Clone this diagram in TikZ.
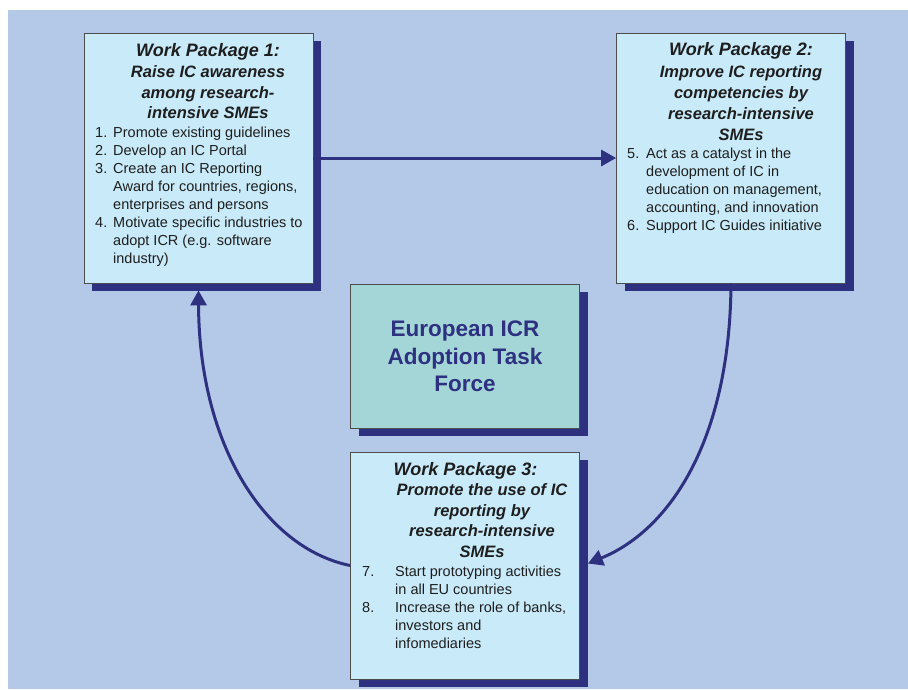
\documentclass[tikz,border=0pt]{standalone}
\usepackage{fontspec}
\setmainfont{Liberation Sans}
\usetikzlibrary{arrows.meta,shadows}

\definecolor{wpback}{HTML}{B4C9E8}
\definecolor{wpfill}{HTML}{C9EAF9}
\definecolor{tffill}{HTML}{A4D6D8}
\definecolor{wpnavy}{HTML}{2E3080}
\definecolor{wpline}{HTML}{4D4D4D}
\definecolor{wptext}{HTML}{1E1E1E}

\newcommand{\wpnum}[2][18pt]{\makebox[#1][l]{#2}}
\newcommand{\wpgap}[1][18pt]{\hspace*{#1}}

\tikzset{
        wpbox/.style={draw=wpline, line width=0.8pt, fill=wpfill, inner sep=0pt,
            minimum width=229pt, minimum height=250pt,
            drop shadow={shadow xshift=8pt, shadow yshift=-8pt, fill=wpnavy, opacity=1}},
        wphead/.style={anchor=base, text=wptext, align=center,
            font=\fontsize{18}{21}\selectfont\bfseries\itshape},
        wpsub/.style={anchor=base, text=wptext, align=center,
            font=\fontsize{16.5}{20.7}\selectfont\bfseries\itshape},
        wplist/.style={anchor=base west, text=wptext, align=left, inner sep=0pt,
            font=\fontsize{14.5}{18}\selectfont},
        wparrow/.style={draw=wpnavy, line width=3pt, -{Triangle[length=15pt,width=16pt]}}
}

\begin{document}
\begin{tikzpicture}[x=1pt,y=-1pt]
        \useasboundingbox (0,0) rectangle (908,689);
        \fill[white] (0,0) rectangle (908,689);
        \fill[wpback] (8,10) rectangle (908,689);

        \node[wpbox] (wp1) at (198.5,158) {};
        \node[wpbox] (wp2) at (731,158) {};
        \node[wpbox, minimum height=144pt, fill=tffill] (tf) at (465,356) {};
        \node[wpbox, minimum height=227pt] (wp3) at (465,565.5) {};

        \node[wphead] (wp1head) at (208,56.5) {Work Package 1:};
        \node[wpsub] (wp1sub) at (208,118.9) {Raise IC awareness\\among research-\\intensive SMEs};
        \node[wplist] (wp1list) at (95,263) {\wpnum{1.}Promote existing guidelines\\
            \wpnum{2.}Develop an IC Portal\\
            \wpnum{3.}Create an IC Reporting\\
            \wpgap Award for countries, regions,\\
            \wpgap enterprises and persons\\
            \wpnum{4.}Motivate specific industries to\\
            \wpgap adopt ICR (e.g. software\\
            \wpgap industry)};

        \node[wphead] (wp2head) at (741,55) {Work Package 2:};
        \node[wpsub] (wp2sub) at (741,140) {Improve IC reporting\\competencies by\\research-intensive\\SMEs};
        \node[wplist] (wp2list) at (627,230.5) {\wpnum[19pt]{5.}Act as a catalyst in the\\
            \wpgap[19pt]development of IC in\\
            \wpgap[19pt]education on management,\\
            \wpgap[19pt]accounting, and innovation\\
            \wpnum[19pt]{6.}Support IC Guides initiative};

        \node[anchor=base, align=center, text=wpnavy,
            font=\fontsize{22.5}{27.5}\selectfont\bfseries] (tftext) at (465,391.5)
            {European ICR\\Adoption Task\\Force};

        \node[wphead] (wp3head) at (465.5,475) {Work Package 3:};
        \node[wpsub] (wp3sub) at (482,557.5) {Promote the use of IC\\reporting by\\research-intensive\\SMEs};
        \node[wplist] (wp3list) at (362,648.5) {\wpnum[33pt]{7.}Start prototyping activities\\
            \wpgap[33pt]in all EU countries\\
            \wpnum[33pt]{8.}Increase the role of banks,\\
            \wpgap[33pt]investors and\\
            \wpgap[33pt]infomediaries};

        \draw[wparrow] (wp1.east) -- (wp2.west);
        \draw[wparrow] (wp2.south) .. controls (730,440) and (670,530) .. ([xshift=8pt,yshift=2pt]wp3.east);
        \draw[wparrow] (wp3.west) .. controls (265,548) and (199,445) .. ([yshift=-7pt]wp1.south);
\end{tikzpicture}
\end{document}
